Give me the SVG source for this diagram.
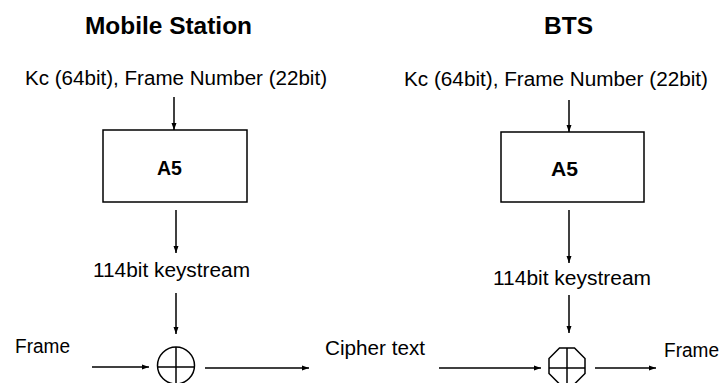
<svg xmlns="http://www.w3.org/2000/svg" width="722" height="383" viewBox="0 0 722 383">
  <style>
    text { font-family: "Liberation Sans", Arial, sans-serif; fill: #000; }
    .title { font-size: 24px; font-weight: bold; }
    .lbl { font-size: 20px; }
    .blk { font-size: 20px; font-weight: bold; }
    .box { fill: #fff; stroke: #000; stroke-width: 1.5; }
    .xor { fill: none; stroke: #000; stroke-width: 1.5; }
    .wire { fill: none; stroke: #000; stroke-width: 1.5; marker-end: url(#head); }
  </style>
  <defs>
    <marker id="head" markerUnits="userSpaceOnUse" markerWidth="8" markerHeight="6" refX="7" refY="3" orient="auto">
      <path d="M0,0.5 L7,3 L0,5.5 Z" fill="#000"/>
    </marker>
  </defs>
  <rect width="722" height="383" fill="#fff"/>

  <!-- Mobile Station side -->
  <g id="ms-title"><text class="title" x="85" y="34" textLength="167" lengthAdjust="spacingAndGlyphs">Mobile Station</text></g>
  <g id="ms-input"><text class="lbl" x="25" y="85" textLength="302" lengthAdjust="spacingAndGlyphs">Kc (64bit), Frame Number (22bit)</text></g>
  <g id="ms-a5">
    <rect class="box" x="103" y="130" width="144" height="72"/>
    <text class="blk" x="157" y="175" textLength="25" lengthAdjust="spacingAndGlyphs">A5</text>
  </g>
  <g id="ms-keystream"><text class="lbl" x="93" y="277" textLength="157" lengthAdjust="spacingAndGlyphs">114bit keystream</text></g>
  <g id="ms-frame"><text class="lbl" x="15" y="353" textLength="55" lengthAdjust="spacingAndGlyphs">Frame</text></g>
  <g id="ms-xor">
    <circle class="xor" cx="176" cy="365.5" r="18.5"/>
    <line class="xor" x1="157.5" y1="367" x2="194.5" y2="367"/>
    <line class="xor" x1="176" y1="347" x2="176" y2="384"/>
  </g>

  <!-- Air interface -->
  <g id="ciphertext"><text class="lbl" x="325" y="355" textLength="100" lengthAdjust="spacingAndGlyphs">Cipher text</text></g>

  <!-- BTS side -->
  <g id="bts-title"><text class="title" x="544" y="34" textLength="49" lengthAdjust="spacingAndGlyphs">BTS</text></g>
  <g id="bts-input"><text class="lbl" x="404" y="86" textLength="304" lengthAdjust="spacingAndGlyphs">Kc (64bit), Frame Number (22bit)</text></g>
  <g id="bts-a5">
    <rect class="box" x="501" y="132" width="143" height="70"/>
    <text class="blk" x="551" y="176" textLength="27" lengthAdjust="spacingAndGlyphs">A5</text>
  </g>
  <g id="bts-keystream"><text class="lbl" x="493" y="285" textLength="158" lengthAdjust="spacingAndGlyphs">114bit keystream</text></g>
  <g id="bts-xor">
    <polygon class="xor" points="559.5,348 574.5,348 585,358.5 585,373.5 574.5,384 559.5,384 549,373.5 549,358.5"/>
    <line class="xor" x1="549" y1="368" x2="585" y2="368"/>
    <line class="xor" x1="567" y1="348" x2="567" y2="384"/>
  </g>
  <g id="bts-frame"><text class="lbl" x="664" y="357" textLength="55" lengthAdjust="spacingAndGlyphs">Frame</text></g>

  <!-- Connectors -->
  <g id="connectors">
    <line class="wire" x1="174" y1="97" x2="174" y2="130"/>
    <line class="wire" x1="176" y1="210" x2="176" y2="253"/>
    <line class="wire" x1="176" y1="293" x2="176" y2="334"/>
    <line class="wire" x1="92" y1="367" x2="149" y2="367"/>
    <line class="wire" x1="205" y1="368" x2="309" y2="368"/>
    <line class="wire" x1="569" y1="100" x2="569" y2="132"/>
    <line class="wire" x1="569" y1="210" x2="569" y2="263"/>
    <line class="wire" x1="569" y1="295" x2="569" y2="333"/>
    <line class="wire" x1="439" y1="368" x2="541" y2="368"/>
    <line class="wire" x1="595" y1="368" x2="656" y2="368"/>
  </g>
</svg>
